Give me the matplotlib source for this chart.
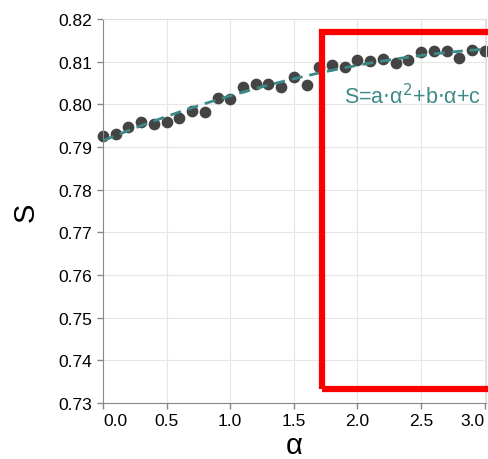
import numpy as np
import matplotlib.pyplot as plt
from matplotlib.patches import Rectangle

plt.rcParams['font.family'] = ['Liberation Sans', 'DejaVu Sans']

alpha = [0.0, 0.1, 0.2, 0.3, 0.4, 0.5, 0.6, 0.7, 0.8, 0.9, 1.0,
         1.1, 1.2, 1.3, 1.4, 1.5, 1.6, 1.7, 1.8, 1.9, 2.0,
         2.1, 2.2, 2.3, 2.4, 2.5, 2.6, 2.7, 2.8, 2.9, 3.0]
S = [0.7926, 0.7931, 0.7946, 0.7959, 0.7954, 0.7959, 0.7968, 0.7984, 0.7983, 0.8015, 0.8013,
     0.8041, 0.8048, 0.8048, 0.8041, 0.8063, 0.8046, 0.8088, 0.8093, 0.8088, 0.8103,
     0.8102, 0.8106, 0.8097, 0.8103, 0.8122, 0.8126, 0.8124, 0.8109, 0.8127, 0.8126]
xticks = [0.0, 0.5, 1.0, 1.5, 2.0, 2.5, 3.0]
yticks = [0.73, 0.74, 0.75, 0.76, 0.77, 0.78, 0.79, 0.80, 0.81, 0.82]
fit_label = r'S=a$\cdot$α$^2$+b$\cdot$α+c'
box_x = [1.72, 3.04]
box_y = [0.7333, 0.8170]

teal = '#3c8a88'

fig = plt.figure(figsize=(4.89, 4.6), dpi=100)
ax = fig.add_axes([0.2106, 0.1217, 0.7833, 0.8348])

# quadratic fit of the points
coef = np.polyfit(alpha, S, 2)
xs = np.linspace(0, 3.0, 100)
ax.scatter(alpha, S, s=55, color='#444444', zorder=2, clip_on=False)
ax.plot(xs, np.polyval(coef, xs), ls=(0, (4, 2.5)), color=teal, lw=2, zorder=3)

ax.text(2.43, 0.8021, fit_label, color=teal, fontsize=15.5, ha='center', va='center')

ax.add_patch(Rectangle((box_x[0], box_y[0]), box_x[1] - box_x[0], box_y[1] - box_y[0],
                       fill=False, ec='red', lw=4.5, clip_on=False, zorder=4))

ax.set_xlim(0, 3.01)
ax.set_ylim(0.73, 0.82)
ax.set_xticks(xticks)
ax.set_yticks(yticks)
ax.set_xticklabels([f'{t:.1f}' for t in xticks])
ax.set_yticklabels([f'{t:.2f}' for t in yticks])
ax.tick_params(labelsize=12.5, color='#888888', length=4, width=1)
xl = ax.get_xticklabels()
xl[0].set_ha('left')
xl[-1].set_ha('right')
ax.grid(color='#e6e6e6', lw=0.8)
ax.set_axisbelow(True)
for side in ['top', 'right']:
    ax.spines[side].set_color('#dddddd')
for side in ['left', 'bottom']:
    ax.spines[side].set_color('#888888')
ax.set_xlabel('α', fontsize=21, labelpad=2)
ax.set_ylabel('S', fontsize=21, labelpad=14)

fig.savefig('out.png', dpi=100)
